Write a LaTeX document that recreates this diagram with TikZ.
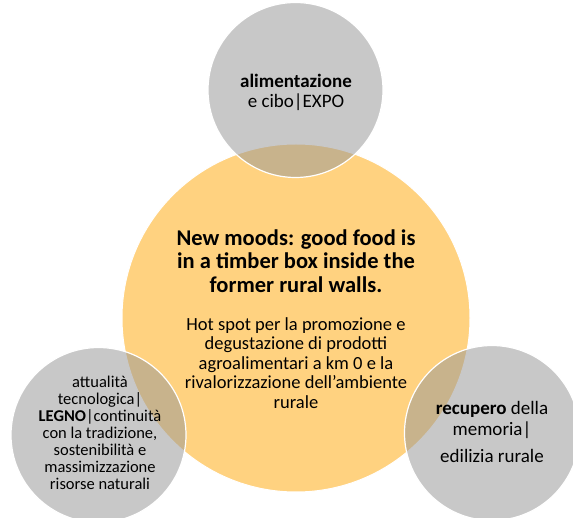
\documentclass[tikz,border=0pt]{standalone}
\usepackage{fontspec}
\setmainfont{Carlito}
\usetikzlibrary{positioning}
\definecolor{moodyellow}{RGB}{255,210,128}
\definecolor{ringgray}{RGB}{152,152,152}
\tikzset{
    hub/.style={circle,fill=moodyellow,draw=white,line width=1pt,minimum size=348pt,inner sep=0pt},
    satellite/.style={circle,fill=ringgray,fill opacity=0.53,draw=white,line width=1.2pt,minimum size=175pt,inner sep=0pt},
    headline/.style={align=center,font=\fontsize{22.5}{23.3}\selectfont\bfseries},
    bodytext/.style={align=center,font=\fontsize{18.5}{19.6}\selectfont},
    sidetext/.style={align=center,font=\fontsize{19}{20.5}\selectfont},
    smalltext/.style={align=center,font=\fontsize{16.5}{17}\selectfont}
}

\begin{document}
\begin{tikzpicture}[x=1pt,y=-1pt]
    \useasboundingbox (0,0) rectangle (573,518);
    % Central circle
    \node[hub] (moods) at (296,318) {};
    % Satellite circles
    \node[satellite] (food) at (295.5,90) {};
    \node[satellite] (wood) at (98.5,435) {};
    \node[satellite] (memory) at (492,433) {};
    % Texts
    \node[headline] (title) at (296,261) {New moods: good food is\\in a timber box inside the\\former rural walls.};
    \node[bodytext] (spot) at (296,363) {Hot spot per la promozione e\\degustazione di prodotti\\agroalimentari a km 0 e la\\rivalorizzazione dell’ambiente\\rurale};
    \node[sidetext] (foodtxt) at (296,92.5) {\textbf{alimentazione}\\e cibo|EXPO};
    \node[smalltext] (woodtxt) at (100,433) {attualità\\tecnologica|\\\textbf{LEGNO}|continuità\\con la tradizione,\\sostenibilità e\\massimizzazione\\risorse naturali};
    \node[sidetext] (memorytxt) at (492,432) {\textbf{recupero} della\\memoria|\\[7pt]edilizia rurale};
\end{tikzpicture}
\end{document}
